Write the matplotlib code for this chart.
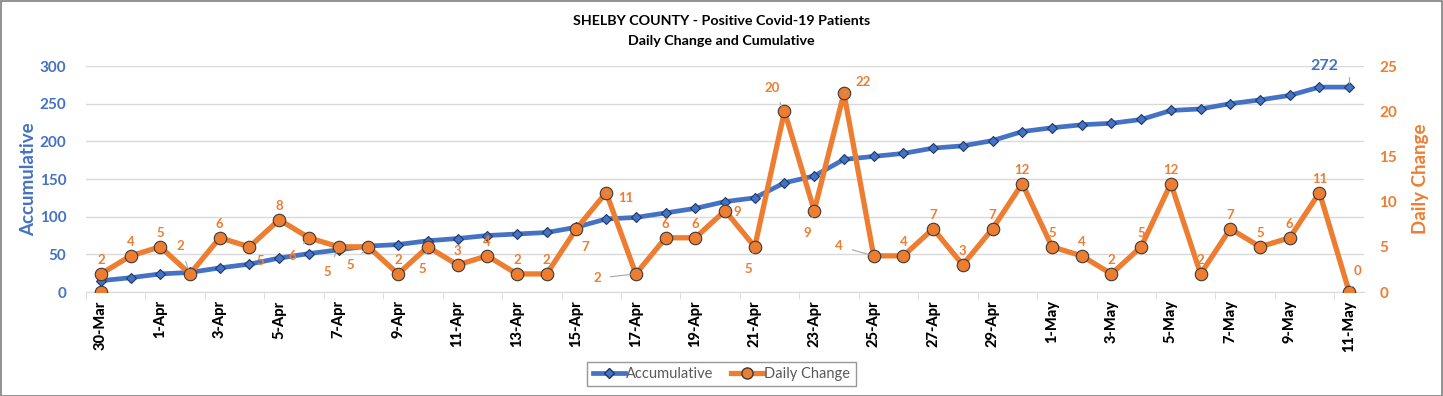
import matplotlib
matplotlib.use("Agg")
from matplotlib import pyplot as plt
from matplotlib.lines import Line2D
from matplotlib.patches import Rectangle

plt.rcParams['font.family'] = ['Lato', 'DejaVu Sans']

dates = ["30-Mar", "31-Mar"] + [f"{d}-Apr" for d in range(1, 31)] + [f"{d}-May" for d in range(1, 12)]

accumulative = [15, 19, 24, 26, 32, 37, 45, 51, 56, 61, 63, 68, 71, 75, 77, 79, 86, 97, 99, 105,
                111, 120, 125, 145, 154, 176, 180, 184, 191, 194, 201, 213, 218, 222, 224, 229,
                241, 243, 250, 255, 261, 272, 272]

daily_change = [2, 4, 5, 2, 6, 5, 8, 6, 5, 5, 2, 5, 3, 4, 2, 2, 7, 11, 2, 6,
                6, 9, 5, 20, 9, 22, 4, 4, 7, 3, 7, 12, 5, 4, 2, 5, 12, 2, 7, 5, 6, 11, 0]

# lone orange marker sitting at 0 under the first point
stray_index = [0]
stray_value = [0]

BLUE = "#4472C4"
ORANGE = "#ED7D31"

# label offsets in points (dx, dy); default is above the marker
label_offsets = {
    3: (-7, 20), 5: (8, -10), 7: (-12, -13), 8: (-8, -18), 9: (-13, -13),
    11: (-4, -16), 16: (6, -13), 17: (14, -4), 18: (-28, -3), 21: (9, -1),
    22: (-5, -16), 23: (-9, 17), 24: (-5, -16), 25: (14, 8), 26: (-25, 7),
    42: (6, 15),
}

fig = plt.figure(figsize=(14.43, 3.96), dpi=100)
fig.patches.append(Rectangle((0.0005, 0.001), 0.999, 0.997, transform=fig.transFigure,
                             fill=False, edgecolor="#7f7f7f", linewidth=1.2))

ax = fig.add_axes([0.0596, 0.2626, 0.8857, 0.5707])
ax2 = ax.twinx()

x = list(range(len(dates)))

ax.plot(x, accumulative, color=BLUE, linewidth=3.4, marker="D", markersize=5.5,
        markerfacecolor=BLUE, markeredgecolor="#203864", markeredgewidth=0.8, zorder=3)
ax2.plot(x, daily_change, color=ORANGE, linewidth=3.8, marker="o", markersize=9,
         markerfacecolor=ORANGE, markeredgecolor="#3a3a3a", markeredgewidth=0.8, zorder=3)
ax2.plot(stray_index, stray_value, linestyle="none", marker="o", markersize=9,
         markerfacecolor=ORANGE, markeredgecolor="#3a3a3a", markeredgewidth=0.8, zorder=3)

ax.set_xlim(-0.5, len(dates) - 0.5)
ax.set_ylim(0, 300)
ax2.set_ylim(0, 25)
ax.set_yticks(range(0, 301, 50))
ax2.set_yticks(range(0, 26, 5))

ax.grid(axis="y", color="#d9d9d9", linewidth=1)
ax.set_axisbelow(True)
for a in (ax, ax2):
    for s in a.spines.values():
        s.set_visible(False)
ax.spines["bottom"].set_visible(True)
ax.spines["bottom"].set_color("#d9d9d9")

ax.set_xticks(x[::2])
ax.set_xticklabels(dates[::2], rotation=90, fontsize=10.5, fontweight="black", color="black")
ax.set_xticks([i - 0.5 for i in range(0, len(dates) + 1, 2)], minor=True)
ax.tick_params(axis="x", which="major", length=0, pad=6)
ax.tick_params(axis="x", which="minor", length=5, color="#d9d9d9")
ax.tick_params(axis="y", length=0, labelsize=11, labelcolor=BLUE, pad=14)
ax2.tick_params(axis="y", length=0, labelsize=11, labelcolor=ORANGE, pad=11)
for lbl in ax.get_yticklabels() + ax2.get_yticklabels():
    lbl.set_fontweight("bold")

ax.set_ylabel("Accumulative", color=BLUE, fontsize=13.5, fontweight="bold", labelpad=2)
ax2.set_ylabel("Daily Change", color=ORANGE, fontsize=13.5, fontweight="bold", labelpad=11)

for i, v in enumerate(daily_change):
    dx, dy = label_offsets.get(i, (0, 10))
    lead = abs(dx) > 10 or abs(dy) > 14
    ax2.annotate(str(v), (i, v), xytext=(dx, dy), textcoords="offset points",
                 ha="center", va="center", color=ORANGE, fontsize=9.5, fontweight="bold",
                 arrowprops=dict(arrowstyle="-", color="#a6a6a6", linewidth=0.8,
                                 shrinkA=5, shrinkB=4) if lead else None, zorder=4)

last = len(accumulative) - 1
ax.annotate(str(accumulative[last]), (last, accumulative[last]), xytext=(-18, 15),
            textcoords="offset points", ha="center", va="center", color=BLUE,
            fontsize=11.5, fontweight="bold",
            arrowprops=dict(arrowstyle="-", color="#a6a6a6", linewidth=0.8,
                            connectionstyle="angle,angleA=0,angleB=90", shrinkA=10, shrinkB=3))

fig.text(0.5, 0.948, "SHELBY COUNTY - Positive Covid-19 Patients", ha="center", va="center",
         fontsize=10.3, fontweight="bold")
fig.text(0.5, 0.897, "Daily Change and Cumulative", ha="center", va="center",
         fontsize=10.3, fontweight="bold")

handles = [
    Line2D([], [], color=BLUE, linewidth=3.4, marker="D", markersize=5.5,
           markerfacecolor=BLUE, markeredgecolor="#203864"),
    Line2D([], [], color=ORANGE, linewidth=3.8, marker="o", markersize=8,
           markerfacecolor=ORANGE, markeredgecolor="#3a3a3a"),
]
fig.legend(handles, ["Accumulative", "Daily Change"], loc="center", bbox_to_anchor=(0.5, 0.055),
           ncol=2, frameon=True, fancybox=False, edgecolor="#7f7f7f", fontsize=10.5,
           handlelength=2.2, handletextpad=0.1, columnspacing=1.2, borderpad=0.35,
           labelcolor="#595959")

fig.savefig("out.png", dpi=100)
